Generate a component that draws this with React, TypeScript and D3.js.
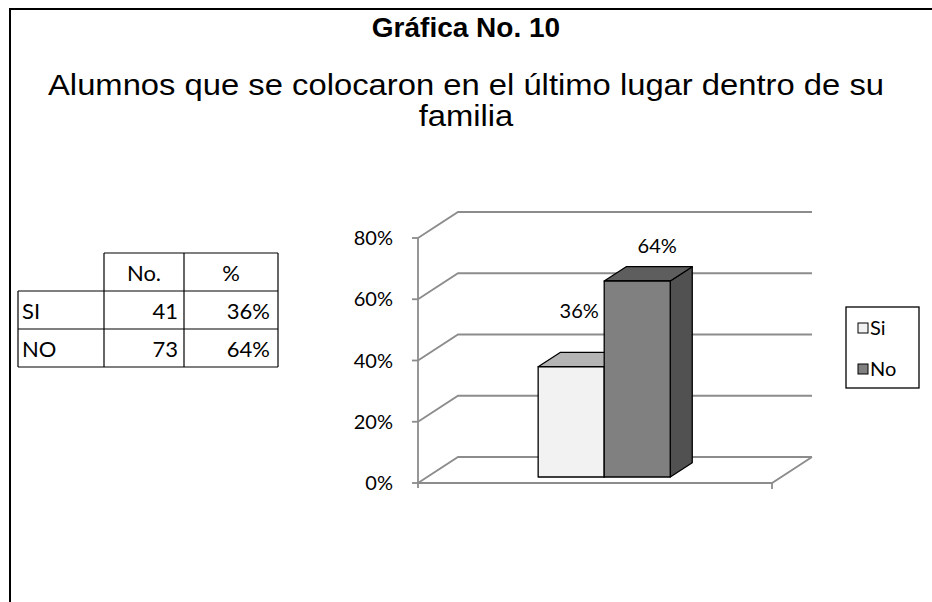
import React from "react";
import * as d3 from "d3";

const TITLE = "Gráfica No. 10";
const SUBTITLE_LINES = ["Alumnos que se colocaron en el último lugar dentro de su", "familia"];
const CATEGORIES = [""];
const SERIES = ["Si", "No"];
const VALUES = [0.36, 0.64];
const Y_TICKS = [0, 0.2, 0.4, 0.6, 0.8];
const TABLE_HEADER = ["", "No.", "%"];
const TABLE_ROWS_LABEL = ["SI", "NO"];
const TABLE_COUNTS = [41, 73];
const TABLE_PCTS = ["36%", "64%"];

const FRONT = ["#f2f2f2", "#808080"];
const TOP = ["#b4b4b4", "#5e5e5e"];
const SIDE = ["#d0d0d0", "#515151"];

export default function App() {
  const W = 932, H = 602;
  const y = d3.scaleLinear().domain([0, 0.8]).range([483, 238]);
  const xLeft = 418, xRight = 772;
  const DX = 40, DY = -26; // full depth offset
  const x0 = d3.scaleBand().domain(CATEGORIES).range([xLeft, xRight]).paddingInner(0).paddingOuter(0.84);
  const x1 = d3.scaleBand().domain(SERIES).range([0, x0.bandwidth()]);
  const f0 = 0.23, f1 = 0.78; // bar front/back depth fractions
  const grid = "#8c8c8c";
  const pct = d3.format(".0%");
  const labelOffsets = [{ dx: 8, dy: -49 }, { dx: 20, dy: -28 }];

  const bars = SERIES.map((s, i) => {
    const bx = (x0(CATEGORIES[0]) as number) + (x1(s) as number) + DX * f0;
    const bw = x1.bandwidth();
    const yb = y(0) + DY * f0;
    const yt = y(VALUES[i]) + DY * f0;
    const ddx = DX * (f1 - f0), ddy = DY * (f1 - f0);
    return { s, i, bx, bw, yb, yt, ddx, ddy };
  });

  // table geometry
  const tx = [18, 104, 184, 278];
  const ty = [253, 291, 329, 367];

  return (
    <div style={{ position: "absolute", left: 0, top: 0 }}>
      <svg width={W} height={H} style={{ display: "block", background: "#fff" }}>
        <path d={`M10,${H} V9 H${W}`} fill="none" stroke="#000" strokeWidth={2} />
        <text x={466} y={37} textAnchor="middle" fontFamily="Liberation Sans, Arial" fontWeight="bold" fontSize={28}>{TITLE}</text>
        {SUBTITLE_LINES.map((t, i) => (
          <text key={i} transform={`translate(466,${95 + i * 31}) scale(1.13,1)`} textAnchor="middle" fontFamily="Liberation Sans, Arial" fontSize={29}>{t}</text>
        ))}

        {/* table */}
        <g fontFamily="Lato, Carlito, Calibri" fontSize={22} fill="#000">
          <line x1={tx[1]} y1={ty[0]} x2={tx[3]} y2={ty[0]} stroke="#000" strokeWidth={1.2} />
          <line x1={tx[0]} y1={ty[1]} x2={tx[3]} y2={ty[1]} stroke="#000" strokeWidth={1.2} />
          <line x1={tx[0]} y1={ty[2]} x2={tx[3]} y2={ty[2]} stroke="#000" strokeWidth={1.2} />
          <line x1={tx[0]} y1={ty[3]} x2={tx[3]} y2={ty[3]} stroke="#000" strokeWidth={1.2} />
          <line x1={tx[0]} y1={ty[1]} x2={tx[0]} y2={ty[3]} stroke="#000" strokeWidth={1.2} />
          <line x1={tx[1]} y1={ty[0]} x2={tx[1]} y2={ty[3]} stroke="#000" strokeWidth={1.2} />
          <line x1={tx[2]} y1={ty[0]} x2={tx[2]} y2={ty[3]} stroke="#000" strokeWidth={1.2} />
          <line x1={tx[3]} y1={ty[0]} x2={tx[3]} y2={ty[3]} stroke="#000" strokeWidth={1.2} />
          <text x={(tx[1] + tx[2]) / 2} y={ty[0] + 28} textAnchor="middle">{TABLE_HEADER[1]}</text>
          <text x={(tx[2] + tx[3]) / 2} y={ty[0] + 28} textAnchor="middle">{TABLE_HEADER[2]}</text>
          {TABLE_ROWS_LABEL.map((r, i) => (
            <g key={r}>
              <text x={tx[0] + 4} y={ty[i + 1] + 28}>{r}</text>
              <text x={tx[2] - 6} y={ty[i + 1] + 28} textAnchor="end">{TABLE_COUNTS[i]}</text>
              <text x={tx[3] - 8} y={ty[i + 1] + 28} textAnchor="end">{TABLE_PCTS[i]}</text>
            </g>
          ))}
        </g>

        {/* gridlines */}
        <g fill="none" stroke={grid} strokeWidth={1.8}>
          {Y_TICKS.map((t) => (
            <path key={t} d={`M${xLeft},${y(t)} L${xLeft + DX},${y(t) + DY} H${xRight + DX}`} />
          ))}
          <path d={`M${xLeft},${y(0)} H${xRight} L${xRight + DX},${y(0) + DY}`} />
          <line x1={xRight} y1={y(0)} x2={xRight} y2={y(0) + 6} />
          <line x1={xLeft} y1={y(0.8)} x2={xLeft} y2={y(0) + 5} />
          {Y_TICKS.map((t) => (
            <line key={"t" + t} x1={xLeft - 6} y1={y(t)} x2={xLeft} y2={y(t)} />
          ))}
        </g>
        <g fontFamily="Lato, Carlito, Calibri" fontSize={20} fill="#000">
          {Y_TICKS.map((t) => (
            <text key={t} x={393} y={y(t) + 7} textAnchor="end">{pct(t)}</text>
          ))}
        </g>

        {/* bars */}
        <g stroke="#000" strokeWidth={1.3} strokeLinejoin="round">
          {bars.map((b) => (
            <g key={b.s}>
              <path d={`M${b.bx + b.bw},${b.yb} L${b.bx + b.bw + b.ddx},${b.yb + b.ddy} V${b.yt + b.ddy} L${b.bx + b.bw},${b.yt} Z`} fill={SIDE[b.i]} />
              <path d={`M${b.bx},${b.yt} L${b.bx + b.ddx},${b.yt + b.ddy} H${b.bx + b.bw + b.ddx} L${b.bx + b.bw},${b.yt} Z`} fill={TOP[b.i]} />
              <rect x={b.bx} y={b.yt} width={b.bw} height={b.yb - b.yt} fill={FRONT[b.i]} />
            </g>
          ))}
        </g>
        <g fontFamily="Lato, Carlito, Calibri" fontSize={20} fill="#000">
          {bars.map((b) => (
            <text key={b.s} x={b.bx + b.bw / 2 + labelOffsets[b.i].dx} y={b.yt + labelOffsets[b.i].dy} textAnchor="middle">{pct(VALUES[b.i])}</text>
          ))}
        </g>

        {/* legend */}
        <rect x={846} y={307} width={73} height={81} fill="#fff" stroke="#000" strokeWidth={1.3} />
        <g fontFamily="Lato, Carlito, Calibri" fontSize={20} fill="#000">
          {SERIES.map((s, i) => (
            <g key={s}>
              <rect x={858} y={323 + i * 41} width={10} height={10} fill={FRONT[i]} stroke="#000" strokeWidth={1} />
              <text x={870} y={335 + i * 41}>{s}</text>
            </g>
          ))}
        </g>
      </svg>
    </div>
  );
}
